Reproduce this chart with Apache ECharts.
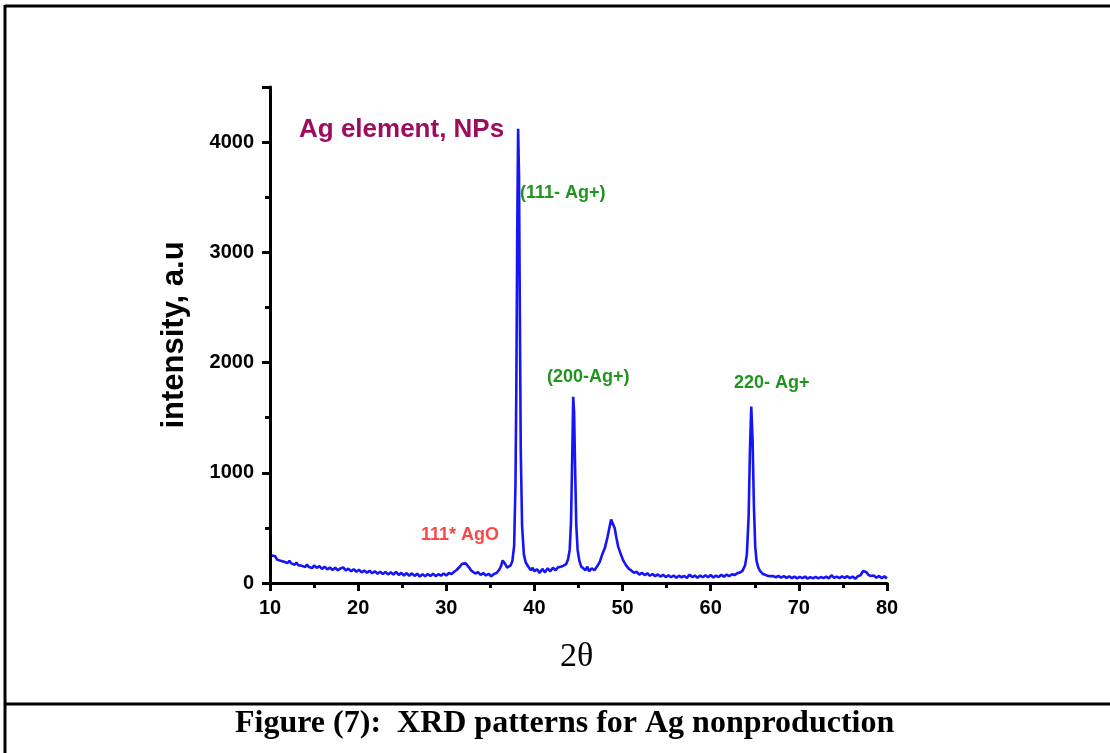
<!DOCTYPE html>
<html>
<head>
<meta charset="utf-8">
<script src="https://cdn.jsdelivr.net/npm/echarts@6/dist/echarts.min.js"></script>
<style>
html,body{margin:0;padding:0;background:#fff;}
#chart{width:1110px;height:753px;}
</style>
</head>
<body>
<div id="chart"></div>
<script>
// 2θ positions (degrees)
const twoTheta = [
10.2,10.4,10.6,10.8,11.0,11.2,11.4,11.6,11.8,12.0,12.2,12.4,12.6,12.8,13.0,13.2,13.4,13.6,13.8,14.0,14.2,14.4,14.6,14.8,15.0,
15.3,15.6,15.9,16.2,16.5,16.8,17.1,17.4,17.7,18.0,18.3,18.6,18.9,19.2,19.5,19.8,20.1,20.4,20.7,21.0,21.3,21.6,21.9,22.2,22.5,
22.8,23.1,23.4,23.7,24.0,24.3,24.6,24.9,25.2,25.5,25.8,26.1,26.4,26.7,27.0,27.3,27.6,27.9,28.2,28.5,28.8,29.1,29.4,29.7,30.0,
30.3,30.6,30.9,31.2,31.5,31.8,32.0,32.2,32.4,32.6,32.8,33.0,33.3,33.6,33.9,34.2,34.5,34.8,35.1,35.4,35.7,36.0,36.2,36.4,36.5,
36.7,36.9,37.1,37.3,37.5,37.7,37.85,37.95,38.05,38.15,38.25,38.35,38.45,38.6,38.8,39.0,39.2,39.4,39.6,39.8,40.0,40.3,40.6,40.9,
41.2,41.5,41.8,42.1,42.4,42.7,43.0,43.3,43.6,43.8,44.0,44.15,44.3,44.4,44.5,44.6,44.75,44.9,45.1,45.3,45.5,45.8,46.0,46.2,46.5,
46.8,47.1,47.4,47.7,48.0,48.3,48.5,48.7,48.9,49.1,49.3,49.5,49.8,50.1,50.4,50.7,51.0,51.3,51.6,51.9,52.2,52.5,52.8,53.1,53.4,
53.7,54.0,54.3,54.6,54.9,55.2,55.5,55.8,56.1,56.4,56.7,57.0,57.3,57.6,57.9,58.2,58.5,58.8,59.1,59.4,59.7,60.0,60.3,60.6,60.9,
61.2,61.5,61.8,62.1,62.4,62.7,63.0,63.3,63.6,63.9,64.1,64.3,64.45,64.6,64.75,64.9,65.05,65.2,65.4,65.6,65.9,66.2,66.5,66.8,67.1,
67.4,67.7,68.0,68.3,68.6,68.9,69.2,69.5,69.8,70.1,70.4,70.7,71.0,71.3,71.6,71.9,72.2,72.5,72.8,73.1,73.4,73.7,74.0,74.3,74.6,
74.9,75.2,75.5,75.8,76.1,76.4,76.7,77.0,77.3,77.5,77.7,77.9,78.2,78.5,78.8,79.1,79.4,79.7,80.0
];
// intensity (a.u.)
const intensity = [
250,232,242,212,228,202,218,192,204,182,202,178,192,166,186,162,178,156,172,146,168,146,162,136,158,
138,152,128,148,124,140,118,138,116,132,142,114,130,106,124,102,120,96,114,92,112,88,106,84,102,
82,100,78,98,76,102,74,92,68,90,66,88,64,84,58,80,62,82,64,84,62,80,66,86,68,
90,82,102,120,145,175,185,178,168,140,115,100,86,98,74,90,68,84,60,82,90,120,150,205,215,
170,140,140,160,200,340,900,1800,3200,4120,3700,2400,1200,520,260,190,160,150,116,138,106,124,92,128,
96,134,106,138,116,144,148,158,172,210,300,550,1200,1690,1550,1100,520,300,200,150,136,116,148,106,134,
116,150,190,260,320,420,500,575,570,500,410,330,260,200,160,130,112,92,102,76,92,72,88,66,82,
62,78,58,74,54,70,52,68,48,66,52,64,46,76,54,68,48,68,52,70,52,72,50,68,54,
74,56,76,62,80,72,88,95,110,160,260,600,1200,1600,1300,700,330,200,140,110,82,74,64,62,62,
52,64,48,62,46,60,44,58,42,56,44,58,40,54,42,56,42,54,44,58,42,70,46,58,44,
60,46,62,44,58,38,62,70,110,125,95,72,64,68,48,64,44,60,42
];
const xTicks = [10, 80, 10];      // min, max, interval
const yTicks = [0, 4500, 1000];   // min, max, interval

const pattern = twoTheta.map((t, i) => [t, intensity[i]]);

const chart = echarts.init(document.getElementById('chart'), null, {renderer: 'canvas'});
const axisFont = {fontFamily: 'Liberation Sans', fontWeight: 'bold', fontSize: 20, color: '#000'};
chart.setOption({
  backgroundColor: '#fff',
  animation: false,
  grid: {left: 270, right: 223, top: 87, bottom: 170, containLabel: false},
  xAxis: {
    type: 'value', min: xTicks[0], max: xTicks[1], interval: xTicks[2],
    axisLine: {show: true, onZero: false, lineStyle: {color: '#000', width: 3}},
    axisTick: {show: true, inside: false, length: 8, lineStyle: {color: '#000', width: 3}},
    minorTick: {show: true, splitNumber: 2, length: 5, lineStyle: {color: '#000', width: 3}},
    axisLabel: Object.assign({margin: 15}, axisFont),
    splitLine: {show: false}
  },
  yAxis: {
    type: 'value', min: yTicks[0], max: yTicks[1], interval: yTicks[2],
    name: 'intensity, a.u', nameLocation: 'middle', nameGap: 80,
    nameTextStyle: {fontFamily: 'Liberation Sans', fontWeight: 'bold', fontSize: 31, color: '#000'},
    axisLine: {show: true, lineStyle: {color: '#000', width: 3}},
    axisTick: {show: true, inside: false, length: 8, lineStyle: {color: '#000', width: 3}},
    minorTick: {show: true, splitNumber: 2, length: 5, lineStyle: {color: '#000', width: 3}},
    axisLabel: Object.assign({margin: 16, showMaxLabel: false,
      formatter: v => (v % 1000 === 0 ? String(v) : '')}, axisFont),
    splitLine: {show: false}
  },
  series: [{
    type: 'line', data: pattern, showSymbol: false, smooth: false,
    lineStyle: {color: '#1515f5', width: 2.6}, clip: true
  }],
  graphic: [
    {type: 'line', shape: {x1: 5, y1: 6, x2: 1110, y2: 6}, style: {stroke: '#000', lineWidth: 3}},
    {type: 'line', shape: {x1: 5, y1: 5, x2: 5, y2: 753}, style: {stroke: '#000', lineWidth: 3}},
    {type: 'line', shape: {x1: 5, y1: 704, x2: 1110, y2: 704}, style: {stroke: '#000', lineWidth: 3}},
    {type: 'text', left: 299, top: 117, style: {text: 'Ag element, NPs', fill: '#9c0d5e',
      font: 'bold 26px "Liberation Sans"'}},
    {type: 'text', left: 520, top: 184, style: {text: '(111- Ag+)', fill: '#1f951f',
      font: 'bold 18px "Liberation Sans"'}},
    {type: 'text', left: 547, top: 368, style: {text: '(200-Ag+)', fill: '#1f951f',
      font: 'bold 18px "Liberation Sans"'}},
    {type: 'text', left: 734, top: 374, style: {text: '220- Ag+', fill: '#1f951f',
      font: 'bold 18px "Liberation Sans"'}},
    {type: 'text', left: 421, top: 526, style: {text: '111* AgO', fill: '#f64a4a',
      font: 'bold 18px "Liberation Sans"'}},
    {type: 'text', left: 560, top: 640, style: {text: '2θ', fill: '#000',
      font: '34px "Liberation Serif"'}},
    {type: 'text', left: 235, top: 708, style: {text: 'Figure (7):  XRD patterns for Ag nonproduction', fill: '#000',
      font: 'bold 32px "Liberation Serif"'}}
  ]
});
</script>
</body>
</html>
